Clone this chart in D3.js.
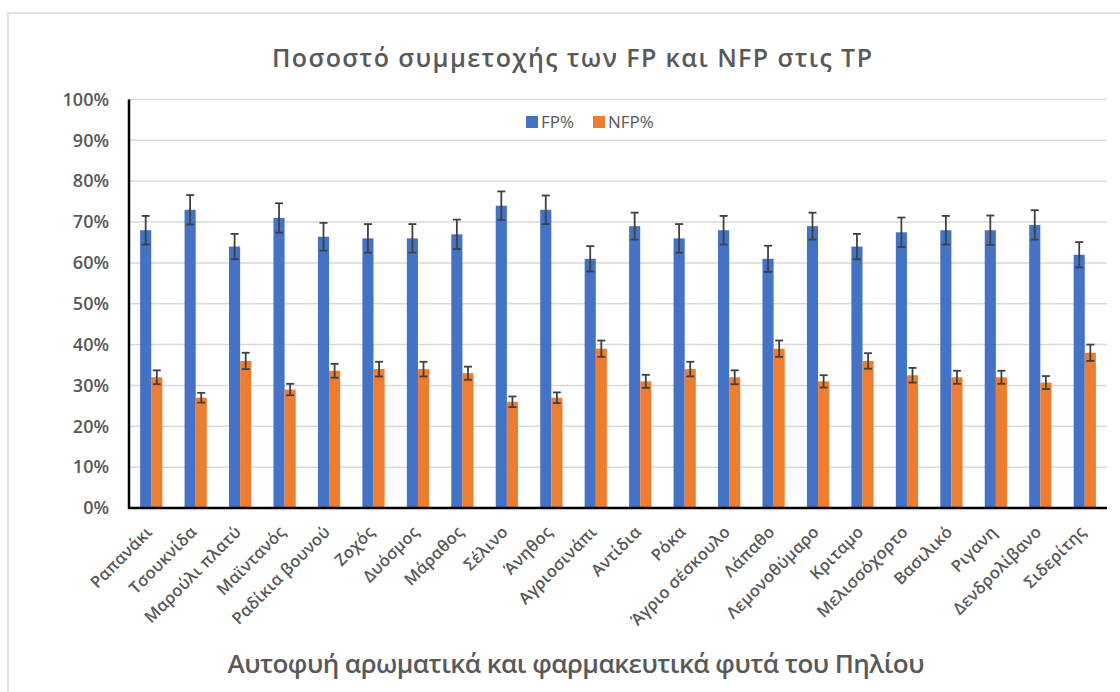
<!DOCTYPE html>
<html>
<head>
<meta charset="utf-8">
<script src="https://cdn.jsdelivr.net/npm/d3@7/dist/d3.min.js"></script>
<style>
  html, body { margin: 0; padding: 0; background: #fff; }
  svg { display: block; }
  text { font-family: "Open Sans", "Noto Sans", sans-serif; fill: #595959; }
</style>
</head>
<body>
<svg id="chart" width="1120" height="692"></svg>
<script>
// Plants of Pelion
const categories = ["Ραπανάκι", "Τσουκνίδα", "Μαρούλι πλατύ", "Μαϊντανός", "Ραδίκια βουνού",
  "Ζοχός", "Δυόσμος", "Μάραθος", "Σέλινο", "Άνηθος", "Αγριοσινάπι", "Αντίδια", "Ρόκα",
  "Άγριο σέσκουλο", "Λάπαθο", "Λεμονοθύμαρο", "Κριταμο", "Μελισσόχορτο", "Βασιλικό",
  "Ριγανη", "Δενδρολίβανο", "Σιδερίτης"];
const seriesNames = ["FP%", "NFP%"];
const fpValues  = [68, 73, 64, 71, 66.4, 66, 66, 67, 74, 73, 61, 69, 66, 68, 61, 69, 64, 67.5, 68, 68, 69.3, 62];
const nfpValues = [32, 27, 36, 29, 33.6, 34, 34, 33, 26, 27, 39, 31, 34, 32, 39, 31, 36, 32.5, 32, 32, 30.7, 38];
const fpErrors  = [3.5, 3.6, 3.1, 3.6, 3.4, 3.5, 3.5, 3.6, 3.5, 3.5, 3.1, 3.3, 3.5, 3.5, 3.2, 3.3, 3.1, 3.6, 3.5, 3.6, 3.6, 3.1];
const nfpErrors = [1.7, 1.2, 2.0, 1.4, 1.7, 1.8, 1.8, 1.6, 1.3, 1.3, 2.0, 1.6, 1.8, 1.7, 2.0, 1.5, 1.9, 1.8, 1.6, 1.6, 1.6, 2.0];
const yTicks = [0, 10, 20, 30, 40, 50, 60, 70, 80, 90, 100];

const chartTitle = "Ποσοστό συμμετοχής των FP και NFP στις TP";
const xTitle = "Αυτοφυή αρωματικά και φαρμακευτικά φυτά του Πηλίου";

const colors = { "FP%": "#4472C4", "NFP%": "#ED7D31" };

const svg = d3.select("#chart");
const plot = { left: 129, right: 1107, top: 99.5, bottom: 508 };

// chart area frame
svg.append("rect")
  .attr("x", 8).attr("y", 13).attr("width", 1140).attr("height", 720)
  .attr("fill", "#fff").attr("stroke", "#d9d9d9").attr("stroke-width", 1.5);

const x = d3.scaleBand().domain(categories)
  .range([plot.left, plot.right]).paddingInner(0.5).paddingOuter(0.25);
const xSub = d3.scaleBand().domain(seriesNames).range([0, x.bandwidth()]);
const y = d3.scaleLinear().domain([0, 100]).range([plot.bottom, plot.top]);

// gridlines
svg.append("g").selectAll("line").data(yTicks.filter(t => t > 0)).join("line")
  .attr("x1", plot.left).attr("x2", plot.right)
  .attr("y1", d => y(d)).attr("y2", d => y(d))
  .attr("stroke", "#d9d9d9").attr("stroke-width", 1.5);

// y axis labels
const yAxis = d3.axisLeft(y).tickValues(yTicks).tickFormat(d => d + "%").tickSize(0).tickPadding(20);
const gy = svg.append("g").attr("transform", `translate(${plot.left},0)`).call(yAxis);
gy.select(".domain").remove();
gy.selectAll("text").attr("font-size", 18).attr("font-weight", 600)
  .style("font-family", "'Open Sans', sans-serif").attr("fill", "#595959");

// data rows
const rows = categories.map((c, i) => ({
  cat: c,
  items: [
    { s: "FP%", v: fpValues[i], e: fpErrors[i] },
    { s: "NFP%", v: nfpValues[i], e: nfpErrors[i] }
  ]
}));

const groups = svg.append("g").selectAll("g").data(rows).join("g")
  .attr("transform", d => `translate(${x(d.cat)},0)`);

groups.selectAll("rect").data(d => d.items).join("rect")
  .attr("x", d => xSub(d.s)).attr("width", xSub.bandwidth())
  .attr("y", d => y(d.v)).attr("height", d => y(0) - y(d.v))
  .attr("fill", d => colors[d.s]);

// error bars
const eb = groups.selectAll("g.err").data(d => d.items).join("g").attr("class", "err")
  .attr("stroke", "#404040").attr("stroke-width", 1.8);
eb.append("line")
  .attr("x1", d => xSub(d.s) + xSub.bandwidth() / 2).attr("x2", d => xSub(d.s) + xSub.bandwidth() / 2)
  .attr("y1", d => y(d.v + d.e)).attr("y2", d => y(d.v - d.e));
eb.append("line")
  .attr("x1", d => xSub(d.s) + xSub.bandwidth() / 2 - 4).attr("x2", d => xSub(d.s) + xSub.bandwidth() / 2 + 4)
  .attr("y1", d => y(d.v + d.e)).attr("y2", d => y(d.v + d.e));
eb.append("line")
  .attr("x1", d => xSub(d.s) + xSub.bandwidth() / 2 - 4).attr("x2", d => xSub(d.s) + xSub.bandwidth() / 2 + 4)
  .attr("y1", d => y(d.v - d.e)).attr("y2", d => y(d.v - d.e));

// axis lines
svg.append("line").attr("x1", plot.left).attr("x2", plot.left)
  .attr("y1", plot.top).attr("y2", plot.bottom + 1)
  .attr("stroke", "#000").attr("stroke-width", 2.5);
svg.append("line").attr("x1", plot.left - 1).attr("x2", plot.right)
  .attr("y1", plot.bottom).attr("y2", plot.bottom)
  .attr("stroke", "#000").attr("stroke-width", 2.5);

// category labels
const xAxis = d3.axisBottom(x).tickSize(0).tickPadding(0);
const gx = svg.append("g").attr("transform", `translate(0,${plot.bottom})`).call(xAxis);
gx.select(".domain").remove();
gx.selectAll("text")
  .attr("font-size", 16.5).attr("font-weight", 600)
  .style("font-family", "'Open Sans', sans-serif").attr("fill", "#595959")
  .attr("letter-spacing", 0.2)
  .attr("text-anchor", "end")
  .attr("dy", "0.35em")
  .attr("transform", "translate(-2,21) rotate(-45)");

// legend
const legend = svg.append("g").attr("transform", "translate(526,116)");
const legX = [0, 67];
seriesNames.forEach((s, i) => {
  const g = legend.append("g").attr("transform", `translate(${legX[i]},0)`);
  g.append("rect").attr("width", 12).attr("height", 12).attr("fill", colors[s]);
  g.append("text").attr("x", 15).attr("y", 12).attr("font-size", 17).text(s);
});

// titles
svg.append("text").attr("x", 572).attr("y", 67).attr("text-anchor", "middle")
  .attr("font-size", 25).attr("font-weight", 600)
  .attr("textLength", 600).attr("lengthAdjust", "spacing").text(chartTitle);
svg.append("text").attr("x", 576).attr("y", 673).attr("text-anchor", "middle")
  .attr("font-size", 26).attr("font-weight", 600)
  .attr("textLength", 697).attr("lengthAdjust", "spacing").text(xTitle);
</script>
</body>
</html>
